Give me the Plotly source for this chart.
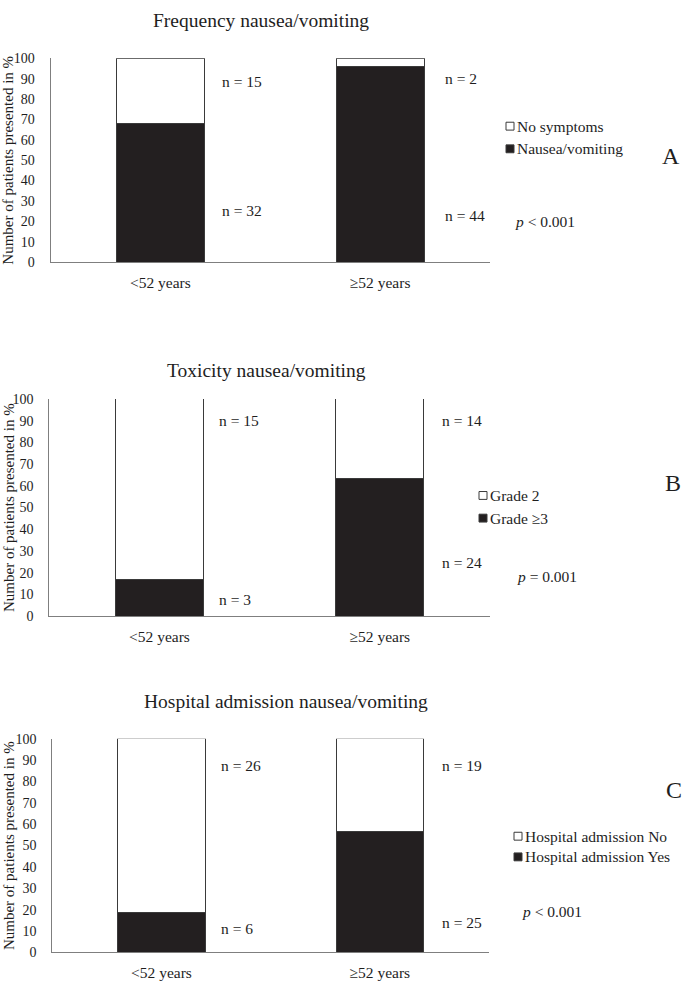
import plotly.graph_objects as go

W, H = 685, 987

categories = ["<52 years", "≥52 years"]

# Panel A - Frequency nausea/vomiting (percent)
a_title = "Frequency nausea/vomiting"
a_black_name = "Nausea/vomiting"
a_white_name = "No symptoms"
a_black = [68.1, 95.9]
a_white = [31.9, 4.1]
a_n_black = ["n = 32", "n = 44"]
a_n_white = ["n = 15", "n = 2"]
a_p = "<i>p</i> < 0.001"

# Panel B - Toxicity nausea/vomiting
b_title = "Toxicity nausea/vomiting"
b_black_name = "Grade ≥3"
b_white_name = "Grade 2"
b_black = [16.7, 63.2]
b_white = [83.3, 36.8]
b_n_black = ["n = 3", "n = 24"]
b_n_white = ["n = 15", "n = 14"]
b_p = "<i>p</i> = 0.001"

# Panel C - Hospital admission nausea/vomiting
c_title = "Hospital admission nausea/vomiting"
c_black_name = "Hospital admission Yes"
c_white_name = "Hospital admission No"
c_black = [18.8, 56.8]
c_white = [81.2, 43.2]
c_n_black = ["n = 6", "n = 25"]
c_n_white = ["n = 26", "n = 19"]
c_p = "<i>p</i> < 0.001"

y_ticks = [0, 10, 20, 30, 40, 50, 60, 70, 80, 90, 100]
y_title = "Number of patients presented in %"
panel_letters = ["A", "B", "C"]

FONT = "Liberation Serif, Times New Roman, serif"
BLACK = "#231F20"
TXT = "#1e1e1e"
AX = "#7f7f7f"
BAR_LINE = "#3a3a3a"


def px(x):
    return x / W


def py(y):
    return 1 - y / H


panels = [
    dict(title=a_title, black=a_black, white=a_white, bn=a_black_name, wn=a_white_name,
         nb=a_n_black, nw=a_n_white, p=a_p,
         x0=50.5, x1=490, y0=52, y1=259, title_xy=(261, 14),
         leg_x=506, leg_y=(121, 144), p_xy=(513, 218), let_xy=(671, 151),
         nw_y=(76, 73), nb_y=(207, 212), nx=(220, 443)),
    dict(title=b_title, black=b_black, white=b_white, bn=b_black_name, wn=b_white_name,
         nb=b_n_black, nw=b_n_white, p=b_p,
         x0=49.3, x1=490, y0=398, y1=618.5, title_xy=(266, 369),
         leg_x=479, leg_y=(496, 519), p_xy=(515, 578), let_xy=(673, 483),
         nw_y=(420, 420), nb_y=(602, 564), nx=(217, 440)),
    dict(title=c_title, black=c_black, white=c_white, bn=c_black_name, wn=c_white_name,
         nb=c_n_black, nw=c_n_white, p=c_p,
         x0=52.3, x1=489, y0=743, y1=960, title_xy=(286, 705),
         leg_x=514, leg_y=(842, 863), p_xy=(520, 918), let_xy=(674, 795),
         nw_y=(770, 770), nb_y=(936, 930), nx=(219, 440)),
]

fig = go.Figure()
annotations = []
shapes = []

for i, pn in enumerate(panels):
    k = "" if i == 0 else str(i + 1)
    xa, ya = "x" + k, "y" + k
    fig.add_trace(go.Bar(x=categories, y=pn["black"], name=pn["bn"], xaxis=xa, yaxis=ya,
                         marker=dict(color=BLACK, line=dict(color=BAR_LINE, width=1)),
                         width=0.4, showlegend=False, hoverinfo="skip"))
    fig.add_trace(go.Bar(x=categories, y=pn["white"], name=pn["wn"], xaxis=xa, yaxis=ya,
                         marker=dict(color="white", line=dict(color=BAR_LINE, width=1)),
                         width=0.4, showlegend=False, hoverinfo="skip"))
    fig.update_layout(**{
        "xaxis" + k: dict(domain=[px(pn["x0"]), px(pn["x1"])], anchor=ya,
                          range=[-0.5, 1.5], showline=True, linecolor=AX, linewidth=1,
                          showgrid=False, zeroline=False, ticks="",
                          ticklabelstandoff=6,
                          tickfont=dict(family=FONT, size=15.5, color=TXT)),
        "yaxis" + k: dict(domain=[py(pn["y1"]), py(pn["y0"])], anchor=xa,
                          range=[0, 100], tickvals=y_ticks, showline=True, linecolor=AX,
                          linewidth=1, showgrid=False, zeroline=False, ticks="",
                          ticklabelstandoff=12,
                          tickfont=dict(family=FONT, size=14, color=TXT)),
    })
    # titles
    annotations.append(dict(text=pn["title"], x=px(pn["title_xy"][0]), y=py(pn["title_xy"][1]),
                            xref="paper", yref="paper", showarrow=False,
                            xanchor="center", yanchor="middle",
                            font=dict(family=FONT, size=19.5, color=TXT)))
    # y-axis title
    annotations.append(dict(text=y_title, x=px(8.5), y=py((pn["y0"] + pn["y1"]) / 2),
                            xref="paper", yref="paper", showarrow=False, textangle=-90,
                            xanchor="center", yanchor="middle",
                            font=dict(family=FONT, size=15, color=TXT)))
    # n labels
    for j in range(2):
        annotations.append(dict(text=pn["nw"][j], x=px(pn["nx"][j]), y=py(pn["nw_y"][j]),
                                xref="paper", yref="paper", showarrow=False,
                                xanchor="left", yanchor="middle",
                                font=dict(family=FONT, size=15.5, color=TXT)))
        annotations.append(dict(text=pn["nb"][j], x=px(pn["nx"][j]), y=py(pn["nb_y"][j]),
                                xref="paper", yref="paper", showarrow=False,
                                xanchor="left", yanchor="middle",
                                font=dict(family=FONT, size=15.5, color=TXT)))
    # legend (white item on top, black below)
    for (name, fill, yy) in [(pn["wn"], "white", pn["leg_y"][0]), (pn["bn"], BLACK, pn["leg_y"][1])]:
        shapes.append(dict(type="rect", xref="paper", yref="paper",
                           x0=px(pn["leg_x"]), x1=px(pn["leg_x"] + 8),
                           y0=py(yy + 4), y1=py(yy - 4),
                           fillcolor=fill, line=dict(color=BAR_LINE, width=1)))
        annotations.append(dict(text=name, x=px(pn["leg_x"] + 9), y=py(yy),
                                xref="paper", yref="paper", showarrow=False,
                                xanchor="left", yanchor="middle",
                                font=dict(family=FONT, size=15.5, color=TXT)))
    # p value
    annotations.append(dict(text=pn["p"], x=px(pn["p_xy"][0]), y=py(pn["p_xy"][1]),
                            xref="paper", yref="paper", showarrow=False,
                            xanchor="left", yanchor="middle",
                            font=dict(family=FONT, size=15.5, color=TXT)))
    # panel letter
    annotations.append(dict(text=panel_letters[i], x=px(pn["let_xy"][0]), y=py(pn["let_xy"][1]),
                            xref="paper", yref="paper", showarrow=False,
                            xanchor="center", yanchor="middle",
                            font=dict(family=FONT, size=24, color=TXT)))

fig.update_layout(
    width=W, height=H, barmode="stack", bargap=0.6,
    margin=dict(l=0, r=0, t=0, b=0),
    paper_bgcolor="white", plot_bgcolor="white",
    annotations=annotations, shapes=shapes, showlegend=False,
)

fig.write_html(
    "out.html",
    config={"displayModeBar": False},
    post_script="document.body.style.margin='0';document.body.style.overflow='hidden';",
)
